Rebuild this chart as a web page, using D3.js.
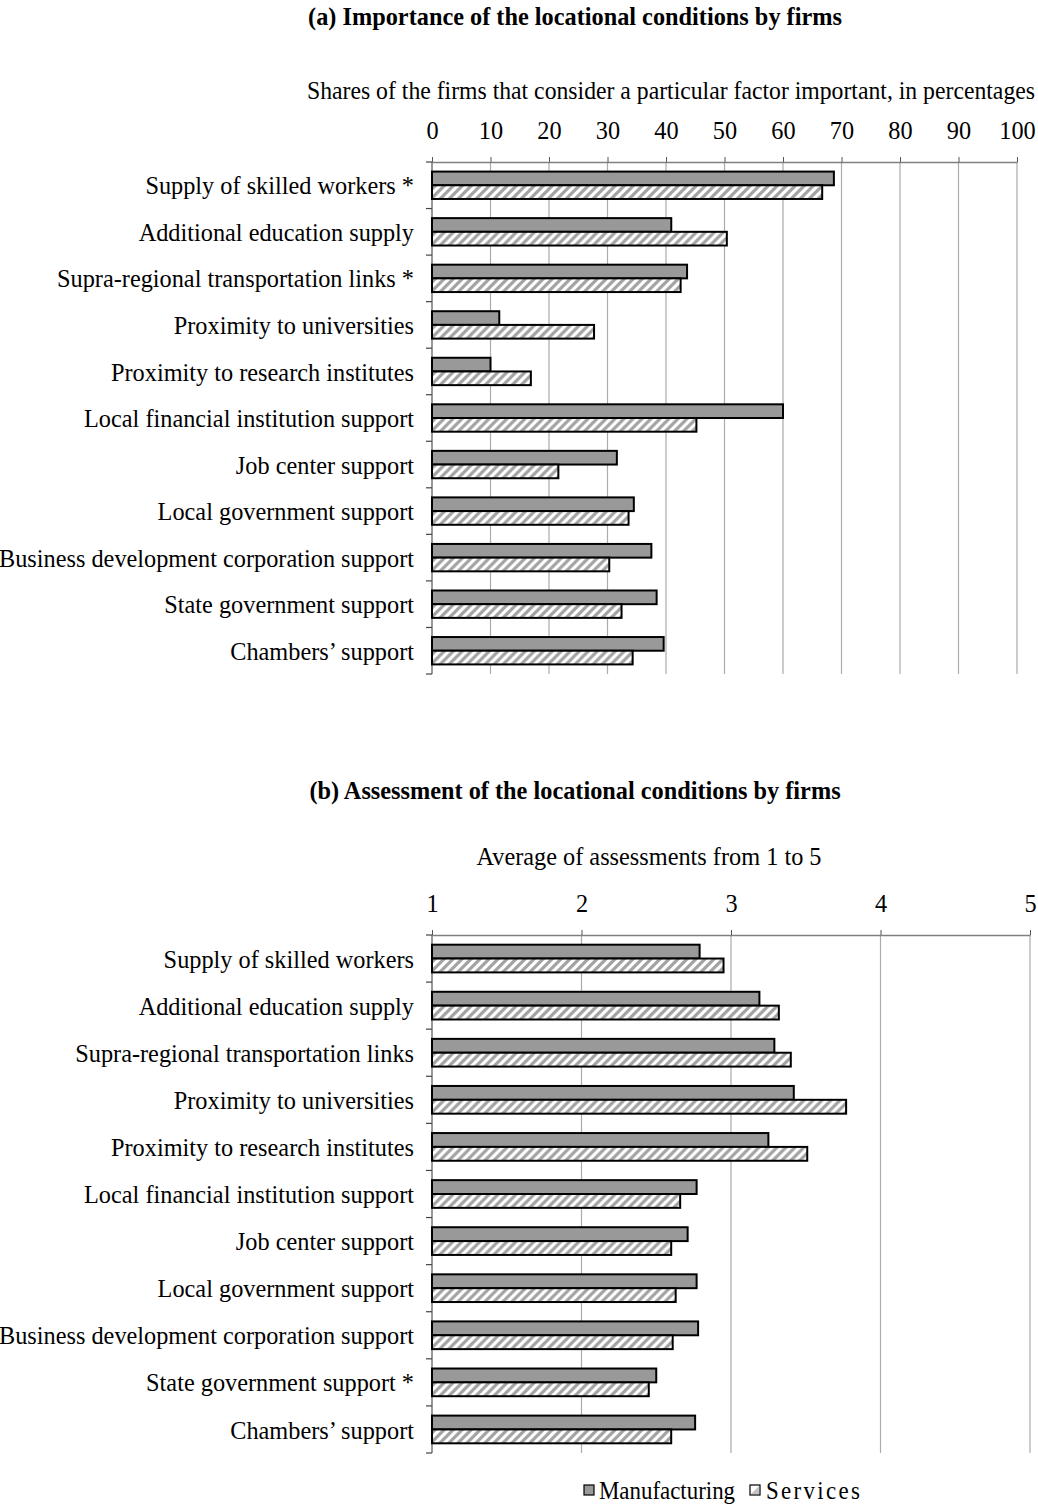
<!DOCTYPE html>
<html>
<head>
<meta charset="utf-8">
<script src="https://cdn.jsdelivr.net/npm/d3@7"></script>
<style>
  body { margin: 0; background: #fff; }
  svg text { font-family: "Liberation Serif", "Times New Roman", serif; fill: #000; }
</style>
</head>
<body>
<div id="chart-area"></div>
<script>
// categories, top to bottom
const catsA = ["Supply of skilled workers *", "Additional education supply", "Supra-regional transportation links *",
  "Proximity to universities", "Proximity to research institutes", "Local financial institution support",
  "Job center support", "Local government support", "Business development corporation support",
  "State government support", "Chambers\u2019 support"];
const catsB = ["Supply of skilled workers", "Additional education supply", "Supra-regional transportation links",
  "Proximity to universities", "Proximity to research institutes", "Local financial institution support",
  "Job center support", "Local government support", "Business development corporation support",
  "State government support *", "Chambers\u2019 support"];

const series = ["Manufacturing", "Services"];

// panel (a): shares in percent
const mfgA = [68.7, 40.9, 43.6, 11.5, 10.0, 60.0, 31.6, 34.5, 37.5, 38.4, 39.6];
const srvA = [66.7, 50.4, 42.5, 27.7, 16.9, 45.2, 21.6, 33.6, 30.3, 32.4, 34.3];

// panel (b): average assessment 1..5
const mfgB = [2.79, 3.19, 3.29, 3.42, 3.25, 2.77, 2.71, 2.77, 2.78, 2.50, 2.76];
const srvB = [2.95, 3.32, 3.40, 3.77, 3.51, 2.66, 2.60, 2.63, 2.61, 2.45, 2.60];

const ticksA = [0, 10, 20, 30, 40, 50, 60, 70, 80, 90, 100];
const ticksB = [1, 2, 3, 4, 5];

const W = 1038, H = 1506;
const FS = 26, SX = 0.935;   // the original type is a bit condensed

const svg = d3.select("#chart-area").append("svg")
  .attr("width", W).attr("height", H);

const defs = svg.append("defs");
const pat = defs.append("pattern")
  .attr("id", "hatch")
  .attr("patternUnits", "userSpaceOnUse")
  .attr("width", 9).attr("height", 9);
pat.append("rect").attr("width", 9).attr("height", 9).attr("fill", "#fff");
pat.append("path")
  .attr("d", "M-2,2 L2,-2 M0,9 L9,0 M7,11 L11,7")
  .attr("stroke", "#a3a3a3").attr("stroke-width", 3.2);

const fills = { Manufacturing: "#999999", Services: "url(#hatch)" };

function addText(g, x, y, str, anchor, bold, sx, fs) {
  return g.append("text")
    .attr("transform", `translate(${x},${y}) scale(${sx || SX},1)`)
    .attr("text-anchor", anchor)
    .attr("font-size", fs || FS)
    .attr("font-weight", bold ? "bold" : null)
    .text(str);
}

function drawPanel(cfg) {
  const x = d3.scaleLinear().domain(cfg.domain).range([432, cfg.xMax]);
  const y = d3.scaleBand().domain(cfg.cats).range([cfg.top, cfg.bottom]).padding(0);
  const ys = d3.scaleBand().domain(series).range([0, y.bandwidth()]).paddingOuter(0.7).paddingInner(0);

  const rows = cfg.cats.map((c, i) => ({ cat: c, Manufacturing: cfg.mfg[i], Services: cfg.srv[i] }));

  addText(svg, 575, cfg.titleY, cfg.title, "middle", true);
  addText(svg, cfg.subX, cfg.subY, cfg.subtitle, cfg.subAnchor, false, cfg.subSX);

  // gridlines
  svg.append("g").selectAll("line")
    .data(cfg.ticks.slice(1))
    .enter().append("line")
    .attr("x1", d => x(d)).attr("x2", d => x(d))
    .attr("y1", cfg.top).attr("y2", cfg.bottom)
    .attr("stroke", "#ababab").attr("stroke-width", 1.2);

  // top axis
  const ax = svg.append("g")
    .attr("transform", `translate(0,${cfg.top})`)
    .call(d3.axisTop(x).tickValues(cfg.ticks).tickFormat(d3.format("d"))
      .tickSize(5).tickSizeOuter(0).tickPadding(18));
  ax.select(".domain").attr("stroke", "#808080").attr("stroke-width", 1.5);
  ax.selectAll(".tick line").attr("stroke", "#555");
  ax.selectAll(".tick text")
    .attr("font-size", FS).attr("fill", "#000")
    .attr("font-family", "Liberation Serif, serif")
    .attr("transform", `scale(${SX},1)`);

  // left axis with ticks at band boundaries
  svg.append("line")
    .attr("x1", 432).attr("x2", 432)
    .attr("y1", cfg.top).attr("y2", cfg.bottom)
    .attr("stroke", "#555").attr("stroke-width", 1.2);
  svg.append("g").selectAll("line")
    .data(d3.range(cfg.cats.length + 1))
    .enter().append("line")
    .attr("x1", 426).attr("x2", 432)
    .attr("y1", i => cfg.top + i * y.step())
    .attr("y2", i => cfg.top + i * y.step())
    .attr("stroke", "#444").attr("stroke-width", 1.2);

  const lab = svg.append("g");
  cfg.cats.forEach(c => {
    addText(lab, 414, y(c) + y.bandwidth() / 2, c, "end", false).attr("dy", "0.35em");
  });

  const groups = svg.append("g").selectAll("g")
    .data(rows)
    .enter().append("g")
    .attr("transform", d => `translate(0,${y(d.cat)})`);

  groups.selectAll("rect")
    .data(d => series.map(s => ({ s, v: d[s] })))
    .enter().append("rect")
    .attr("x", x(cfg.domain[0]))
    .attr("y", d => ys(d.s))
    .attr("width", d => x(d.v) - x(cfg.domain[0]))
    .attr("height", ys.bandwidth())
    .attr("fill", d => fills[d.s])
    .attr("stroke", "#000")
    .attr("stroke-width", 2);
}

drawPanel({
  title: "(a) Importance of the locational conditions by firms", titleY: 25,
  subtitle: "Shares of the firms that consider a particular factor important, in percentages",
  subX: 1035, subY: 99, subAnchor: "end", subSX: 0.912,
  cats: catsA, mfg: mfgA, srv: srvA, domain: [0, 100], xMax: 1017,
  ticks: ticksA, top: 162, bottom: 674
});

drawPanel({
  title: "(b) Assessment of the locational conditions by firms", titleY: 799,
  subtitle: "Average of assessments from 1 to 5",
  subX: 649, subY: 865, subAnchor: "middle",
  cats: catsB, mfg: mfgB, srv: srvB, domain: [1, 5], xMax: 1030,
  ticks: ticksB, top: 935, bottom: 1453
});

// legend
const legend = svg.append("g").attr("transform", "translate(584,1485)");
const legItems = [{ s: "Manufacturing", x: 0, tx: 15, ls: 0 }, { s: "Services", x: 166, tx: 16, ls: 2.5 }];
const li = legend.selectAll("g").data(legItems).enter().append("g")
  .attr("transform", d => `translate(${d.x},0)`);
li.append("rect")
  .attr("width", 10).attr("height", 10)
  .attr("fill", d => d.s === "Manufacturing" ? "#999999" : "#fff");
li.filter(d => d.s === "Services").append("path")
  .attr("d", "M1,9 L9,1 L9,9 Z")
  .attr("fill", "#c4c4c4");
li.append("rect")
  .attr("width", 10).attr("height", 10)
  .attr("fill", "none").attr("stroke", "#000").attr("stroke-width", 1.2);
li.each(function(d) {
  addText(d3.select(this), d.tx, 5, d.s, "start", false, SX, 24.5)
    .attr("dy", "0.35em")
    .attr("letter-spacing", d.ls);
});
</script>
</body>
</html>
